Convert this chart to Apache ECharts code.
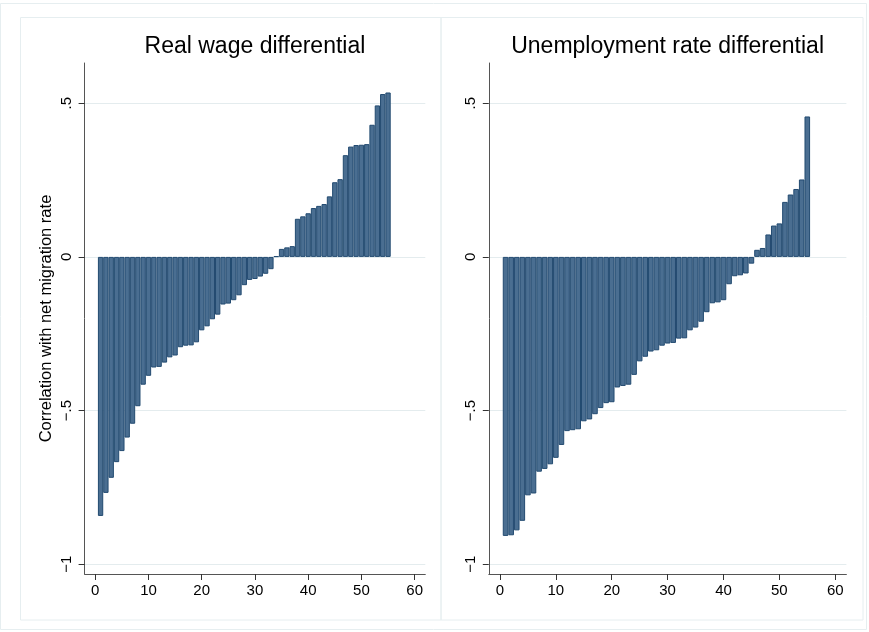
<!DOCTYPE html>
<html><head><meta charset="utf-8">
<script src="https://cdn.jsdelivr.net/npm/echarts@6/dist/echarts.min.js"></script>
<style>html,body{margin:0;padding:0;background:#fff}#c{width:869px;height:632px}</style>
</head><body><div id="c"></div>
<script>
const panelTitles = ['Real wage differential', 'Unemployment rate differential'];
const yAxisTitle = 'Correlation with net migration rate';
const wageDiff = [-0.843, -0.768, -0.719, -0.668, -0.632, -0.588, -0.543, -0.486, -0.416, -0.387,
  -0.360, -0.358, -0.344, -0.327, -0.321, -0.294, -0.289, -0.288, -0.278, -0.239,
  -0.226, -0.203, -0.188, -0.155, -0.152, -0.141, -0.125, -0.092, -0.075, -0.072,
  -0.064, -0.055, -0.040, 0.002, 0.026, 0.031, 0.035, 0.124, 0.132, 0.142,
  0.159, 0.166, 0.172, 0.197, 0.243, 0.253, 0.331, 0.359, 0.364, 0.365,
  0.367, 0.430, 0.493, 0.530, 0.535];
const unempDiff = [-0.908, -0.906, -0.890, -0.859, -0.776, -0.770, -0.699, -0.690, -0.675, -0.654,
  -0.612, -0.567, -0.564, -0.561, -0.535, -0.529, -0.512, -0.492, -0.476, -0.473,
  -0.425, -0.420, -0.416, -0.384, -0.340, -0.325, -0.308, -0.304, -0.289, -0.282,
  -0.280, -0.266, -0.265, -0.239, -0.230, -0.211, -0.180, -0.151, -0.148, -0.141,
  -0.089, -0.063, -0.060, -0.054, -0.022, 0.023, 0.029, 0.073, 0.102, 0.109,
  0.179, 0.203, 0.221, 0.252, 0.457];
const xTicks = [0, 10, 20, 30, 40, 50, 60];
const yTicks = [-1, -0.5, 0, 0.5];
const yTickLabels = ['\u22121', '\u2212.5', '0', '.5'];

const X_MIN = -2, X_MAX = 62, Y_MIN = -1.032, Y_MAX = 0.631;
const FONT = 'Liberation Sans, Arial, Helvetica, sans-serif';
const grids = [
  { left: 84.6, top: 63, width: 340.7, height: 511 },
  { left: 488.8, top: 63, width: 357.6, height: 511 }
];
const seriesData = [wageDiff, unempDiff];

const chart = echarts.init(document.getElementById('c'), null, { renderer: 'canvas' });
const frame = '#e6eef0';
const option = {
  animation: false,
  backgroundColor: '#fff',
  graphic: [
    { type: 'rect', shape: { x: 0.5, y: 3.5, width: 866, height: 626 }, style: { fill: 'none', stroke: frame, lineWidth: 1 }, silent: true, z: -10 },
    { type: 'rect', shape: { x: 20.5, y: 17.5, width: 420.5, height: 602.5 }, style: { fill: 'none', stroke: frame, lineWidth: 1 }, silent: true, z: -10 },
    { type: 'rect', shape: { x: 441, y: 17.5, width: 422, height: 602.5 }, style: { fill: 'none', stroke: frame, lineWidth: 1 }, silent: true, z: -10 }
  ],
  title: grids.map((g, i) => ({
    text: panelTitles[i],
    left: g.left + g.width / 2,
    top: 35,
    padding: 0,
    textAlign: 'center',
    textStyle: { fontFamily: FONT, fontSize: 23, fontWeight: 'normal', color: '#000' }
  })),
  grid: grids.map(g => ({ left: g.left, top: g.top, width: g.width, height: g.height, containLabel: false })),
  xAxis: grids.map((g, i) => ({
    type: 'value', gridIndex: i, min: X_MIN, max: X_MAX,
    axisLine: { show: true, onZero: false, lineStyle: { color: '#555', width: 1 } },
    axisTick: { show: true, length: 6, customValues: xTicks, lineStyle: { color: '#333' } },
    axisLabel: { show: true, customValues: xTicks, margin: 9, fontFamily: FONT, fontSize: 15, color: '#000' },
    splitLine: { show: false }
  })),
  yAxis: grids.map((g, i) => ({
    type: 'value', gridIndex: i, min: Y_MIN, max: Y_MAX,
    name: i === 0 ? yAxisTitle : '',
    nameLocation: 'middle', nameRotate: 90, nameGap: 30,
    nameTextStyle: { fontFamily: FONT, fontSize: 16.5, color: '#000' },
    axisLine: { show: true, onZero: false, lineStyle: { color: '#555', width: 1 } },
    axisTick: { show: true, length: 6, customValues: yTicks, lineStyle: { color: '#333' } },
    axisLabel: {
      show: true, customValues: yTicks, rotate: 90, margin: 10,
      fontFamily: FONT, fontSize: 15, color: '#000',
      formatter: v => { const k = yTicks.findIndex(t => Math.abs(t - v) < 1e-6); return k >= 0 ? yTickLabels[k] : ''; }
    },
    splitLine: { show: true, lineStyle: { color: '#e4ecee', width: 1 } }
  })),
  series: seriesData.map((arr, i) => ({
    type: 'bar', xAxisIndex: i, yAxisIndex: i,
    barWidth: grids[i].width / (X_MAX - X_MIN),
    data: arr.map((v, k) => [k + 1, v]),
    itemStyle: { color: '#4a6e91', borderColor: '#224a70', borderWidth: 1 },
    z: 3
  }))
};
chart.setOption(option);
</script>
</body></html>
